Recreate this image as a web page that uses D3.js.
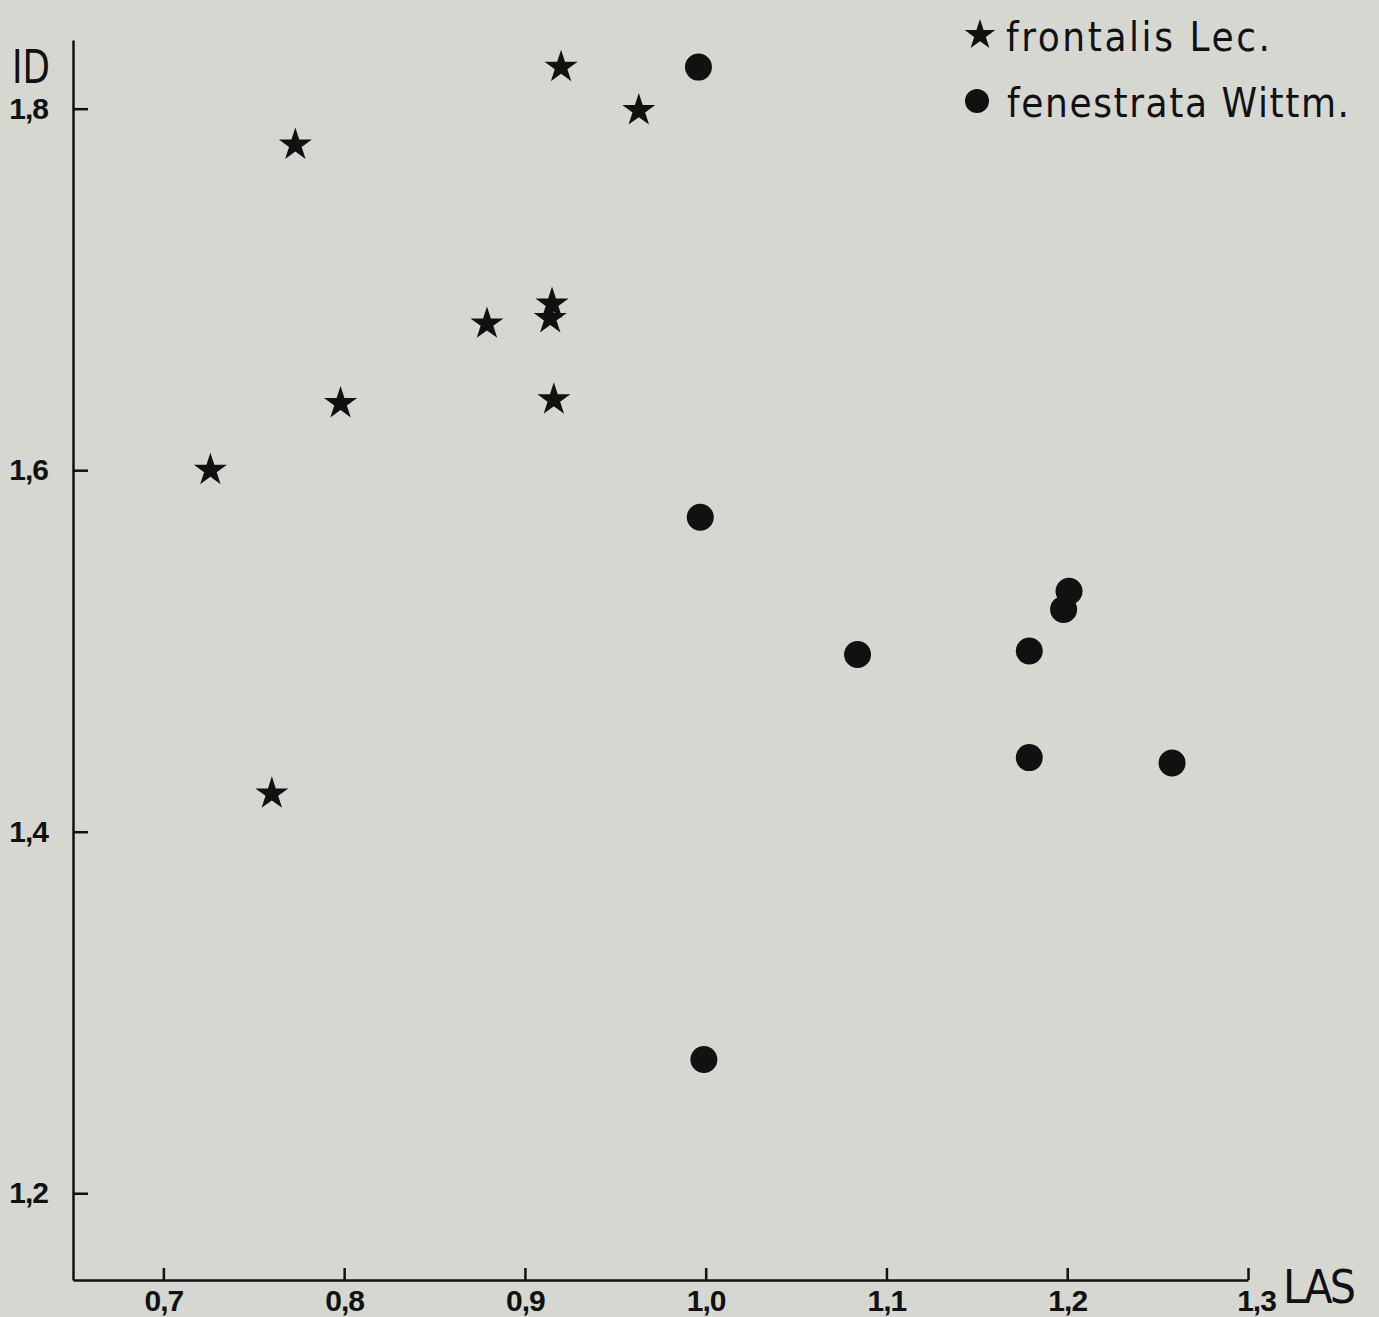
<!DOCTYPE html>
<html>
<head>
<meta charset="utf-8">
<script src="https://cdn.jsdelivr.net/npm/d3@7"></script>
<style>
  body { margin: 0; background: #d7d7d2; }
  svg { display: block; }
  .axis path, .axis line { stroke: #111; stroke-width: 2.5; }
  .axis text { font-family: "Liberation Sans", Arial, sans-serif; font-weight: bold; font-size: 30px; letter-spacing: -1px; fill: #111; }
</style>
</head>
<body>
<div id="chart"></div>
<script>
// frontalis Lec. (stars)
var frontalisLAS = [0.920, 0.963, 0.773, 0.915, 0.914, 0.879, 0.916, 0.798, 0.726, 0.760];
var frontalisID  = [1.823, 1.799, 1.780, 1.692, 1.684, 1.681, 1.639, 1.637, 1.600, 1.421];
// fenestrata Wittm. (dots)
var fenestrataLAS = [0.996, 0.997, 1.084, 1.179, 1.201, 1.198, 1.179, 1.258, 0.999];
var fenestrataID  = [1.823, 1.574, 1.498, 1.500, 1.533, 1.523, 1.441, 1.438, 1.274];

var xTicks = [0.7, 0.8, 0.9, 1.0, 1.1, 1.2, 1.3];
var yTicks = [1.2, 1.4, 1.6, 1.8];
var legendLabels = ["frontalis Lec.", "fenestrata Wittm."];

var width = 1379, height = 1317;

var svg = d3.select("#chart").append("svg")
    .attr("width", width)
    .attr("height", height);

svg.append("rect")
    .attr("width", width)
    .attr("height", height)
    .attr("fill", "#d7d7d2");

var x = d3.scaleLinear().domain([0.65, 1.3]).range([73, 1248]);
var y = d3.scaleLinear().domain([1.152, 1.838]).range([1280, 40]);

function comma(d) {
    return d3.format(".1f")(d).replace(".", ",");
}

var xAxis = d3.axisBottom(x)
    .tickValues(xTicks)
    .tickFormat(comma)
    .tickSizeInner(-12)
    .tickSizeOuter(0)
    .tickPadding(10);

var yAxis = d3.axisLeft(y)
    .tickValues(yTicks)
    .tickFormat(comma)
    .tickSizeInner(-15)
    .tickSizeOuter(0)
    .tickPadding(25);

var xg = svg.append("g")
    .attr("class", "axis")
    .attr("transform", "translate(0," + y.range()[0] + ")")
    .call(xAxis);

// last label sits a little right of its tick, next to the axis title
xg.selectAll(".tick text")
    .filter(function (d) { return d === 1.3; })
    .attr("dx", 8);

svg.append("g")
    .attr("class", "axis")
    .attr("transform", "translate(" + x.range()[0] + ",0)")
    .call(yAxis);

// axis titles
svg.append("text")
    .attr("x", 12)
    .attr("y", 83)
    .attr("font-family", "DejaVu Sans Condensed, sans-serif")
    .attr("font-size", 47)
    .attr("textLength", 38)
    .attr("lengthAdjust", "spacingAndGlyphs")
    .attr("fill", "#111")
    .text("ID");

svg.append("text")
    .attr("x", 1283)
    .attr("y", 1303)
    .attr("font-family", "DejaVu Sans Condensed, sans-serif")
    .attr("font-size", 46)
    .attr("textLength", 73)
    .attr("fill", "#111")
    .text("LAS");

var star = d3.symbol().type(d3.symbolStar).size(340);

var frontalis = frontalisLAS.map(function (v, i) { return {x: v, y: frontalisID[i]}; });
var fenestrata = fenestrataLAS.map(function (v, i) { return {x: v, y: fenestrataID[i]}; });

svg.append("g").selectAll("path.star")
    .data(frontalis)
    .enter()
    .append("path")
    .attr("class", "star")
    .attr("d", star)
    .attr("transform", function (d) { return "translate(" + x(d.x) + "," + y(d.y) + ")"; })
    .attr("fill", "#111");

svg.append("g").selectAll("circle.dot")
    .data(fenestrata)
    .enter()
    .append("circle")
    .attr("class", "dot")
    .attr("cx", function (d) { return x(d.x); })
    .attr("cy", function (d) { return y(d.y); })
    .attr("r", 13.5)
    .attr("fill", "#111");

// legend
var legend = svg.append("g");
legend.append("path")
    .attr("d", d3.symbol().type(d3.symbolStar).size(290))
    .attr("transform", "translate(980,35)")
    .attr("fill", "#111");
legend.append("circle")
    .attr("cx", 977)
    .attr("cy", 101)
    .attr("r", 12)
    .attr("fill", "#111");

legend.selectAll("text")
    .data(legendLabels)
    .enter()
    .append("text")
    .attr("x", function (d, i) { return i ? 1007 : 1006; })
    .attr("y", function (d, i) { return i ? 117 : 51; })
    .attr("font-family", "DejaVu Sans Condensed, sans-serif")
    .attr("font-size", 40)
    .attr("textLength", function (d, i) { return i ? 342 : 264; })
    .attr("fill", "#111")
    .text(function (d) { return d; });
</script>
</body>
</html>
